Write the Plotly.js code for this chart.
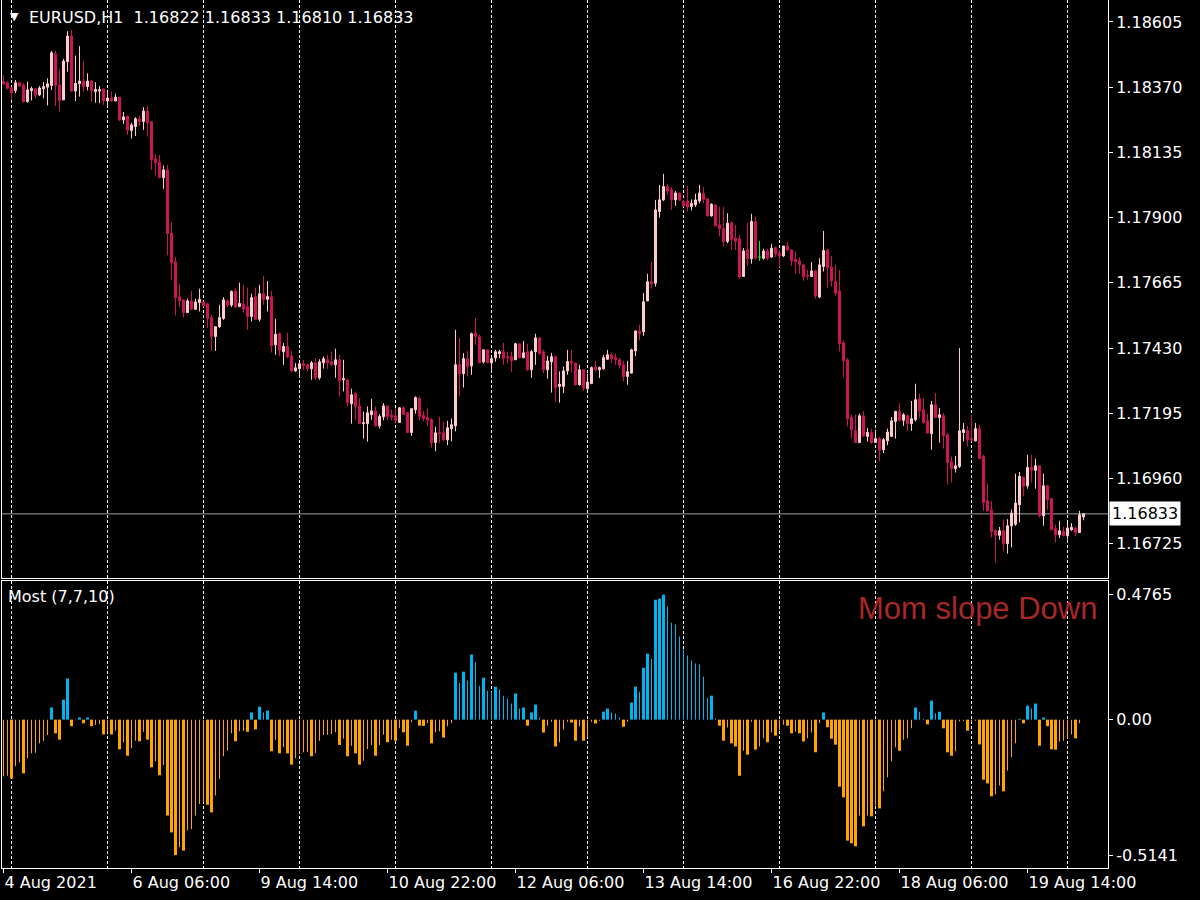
<!DOCTYPE html>
<html><head><meta charset="utf-8">
<script src="https://cdn.plot.ly/plotly-3.0.1.min.js"></script>
<style>html,body{margin:0;padding:0;background:#000;}#chart{width:1200px;height:900px;}</style>
</head><body><div id="chart"></div>
<script>
const symbolName = "EURUSD,H1";
const indicatorName = "Most (7,7,10)";
const signalText = "Mom slope Down";

const openP = [
1.18390,1.18386,1.18368,1.18358,1.18386,1.18378,1.18318,1.18358,1.18364,1.18342,
1.18364,1.18370,1.18376,1.18490,1.18378,1.18324,1.18462,1.18554,1.18356,1.18382,
1.18392,1.18372,1.18392,1.18354,1.18356,1.18364,1.18320,1.18331,1.18320,1.18334,
1.18252,1.18266,1.18214,1.18228,1.18256,1.18246,1.18284,1.18245,1.18112,1.18100,
1.18044,1.18072,1.17844,1.17741,1.17615,1.17604,1.17558,1.17600,1.17570,1.17594,
1.17597,1.17590,1.17540,1.17472,1.17507,1.17537,1.17600,1.17585,1.17634,1.17580,
1.17588,1.17579,1.17544,1.17615,1.17534,1.17626,1.17606,1.17615,1.17442,1.17482,
1.17417,1.17436,1.17402,1.17348,1.17356,1.17374,1.17370,1.17356,1.17377,1.17323,
1.17377,1.17388,1.17381,1.17370,1.17388,1.17316,1.17316,1.17230,1.17266,1.17222,
1.17158,1.17158,1.17190,1.17204,1.17150,1.17183,1.17222,1.17189,1.17186,1.17162,
1.17215,1.17197,1.17126,1.17208,1.17249,1.17188,1.17180,1.17172,1.17090,1.17125,
1.17125,1.17100,1.17140,1.17150,1.17370,1.17338,1.17392,1.17366,1.17485,1.17471,
1.17381,1.17424,1.17377,1.17395,1.17410,1.17417,1.17399,1.17399,1.17388,1.17446,
1.17395,1.17417,1.17352,1.17417,1.17467,1.17417,1.17352,1.17381,1.17399,1.17292,
1.17292,1.17348,1.17382,1.17376,1.17298,1.17352,1.17284,1.17302,1.17362,1.17352,
1.17356,1.17390,1.17406,1.17396,1.17388,1.17370,1.17328,1.17340,1.17420,1.17492,
1.17489,1.17600,1.17669,1.17664,1.17922,1.17964,1.18012,1.18000,1.17964,1.17989,
1.17958,1.17960,1.17940,1.17946,1.17960,1.17986,1.17968,1.17906,1.17946,1.17874,
1.17860,1.17814,1.17882,1.17826,1.17824,1.17688,1.17784,1.17752,1.17886,1.17758,
1.17754,1.17780,1.17758,1.17792,1.17773,1.17762,1.17798,1.17784,1.17750,1.17744,
1.17730,1.17693,1.17688,1.17708,1.17614,1.17724,1.17784,1.17722,1.17669,1.17636,
1.17449,1.17388,1.17180,1.17132,1.17090,1.17186,1.17112,1.17126,1.17090,1.17104,
1.17064,1.17096,1.17112,1.17166,1.17202,1.17170,1.17187,1.17158,1.17172,1.17248,
1.17208,1.17168,1.17122,1.17226,1.17180,1.17187,1.17118,1.17020,1.16996,1.17004,
1.17126,1.17132,1.17104,1.17096,1.17140,1.17039,1.16880,1.16848,1.16772,1.16756,
1.16772,1.16726,1.16790,1.16796,1.16866,1.16964,1.16934,1.17000,1.16990,1.17006,
1.16826,1.16934,1.16888,1.16780,1.16758,1.16770,1.16754,1.16776,1.16782,1.16766,
1.16822];

const highP = [
1.18414,1.18392,1.18372,1.18396,1.18390,1.18384,1.18390,1.18372,1.18368,1.18374,
1.18389,1.18402,1.18500,1.18500,1.18434,1.18472,1.18572,1.18576,1.18484,1.18518,
1.18464,1.18420,1.18396,1.18388,1.18374,1.18364,1.18354,1.18354,1.18346,1.18334,
1.18280,1.18266,1.18242,1.18262,1.18266,1.18298,1.18302,1.18248,1.18128,1.18126,
1.18088,1.18090,1.17885,1.17759,1.17660,1.17604,1.17609,1.17636,1.17608,1.17644,
1.17597,1.17592,1.17550,1.17508,1.17586,1.17614,1.17606,1.17638,1.17646,1.17666,
1.17658,1.17648,1.17626,1.17648,1.17658,1.17690,1.17672,1.17636,1.17536,1.17486,
1.17448,1.17486,1.17420,1.17376,1.17382,1.17388,1.17374,1.17384,1.17394,1.17390,
1.17400,1.17406,1.17417,1.17428,1.17406,1.17388,1.17318,1.17284,1.17274,1.17250,
1.17201,1.17220,1.17248,1.17220,1.17192,1.17232,1.17222,1.17208,1.17214,1.17218,
1.17220,1.17197,1.17212,1.17256,1.17256,1.17204,1.17212,1.17178,1.17147,1.17183,
1.17165,1.17168,1.17176,1.17496,1.17467,1.17412,1.17420,1.17486,1.17539,1.17478,
1.17424,1.17424,1.17400,1.17424,1.17424,1.17449,1.17417,1.17417,1.17449,1.17446,
1.17456,1.17446,1.17424,1.17482,1.17467,1.17424,1.17402,1.17413,1.17402,1.17346,
1.17364,1.17424,1.17424,1.17378,1.17370,1.17354,1.17338,1.17364,1.17384,1.17364,
1.17406,1.17424,1.17414,1.17410,1.17396,1.17384,1.17384,1.17428,1.17492,1.17514,
1.17629,1.17698,1.17741,1.17964,1.18018,1.18058,1.18020,1.18010,1.17996,1.17989,
1.17964,1.18014,1.17966,1.17986,1.18018,1.18010,1.17968,1.17952,1.17946,1.17939,
1.17939,1.17916,1.17886,1.17874,1.17838,1.17790,1.17882,1.17914,1.17903,1.17816,
1.17788,1.17788,1.17806,1.17796,1.17784,1.17798,1.17813,1.17786,1.17777,1.17758,
1.17732,1.17712,1.17740,1.17708,1.17754,1.17852,1.17784,1.17762,1.17730,1.17712,
1.17456,1.17394,1.17190,1.17190,1.17194,1.17204,1.17142,1.17140,1.17136,1.17110,
1.17106,1.17140,1.17182,1.17204,1.17232,1.17196,1.17190,1.17240,1.17302,1.17266,
1.17250,1.17194,1.17240,1.17268,1.17214,1.17196,1.17124,1.17040,1.17042,1.17430,
1.17160,1.17150,1.17190,1.17160,1.17154,1.17046,1.16942,1.16880,1.16778,1.16786,
1.16812,1.16814,1.16848,1.16978,1.16984,1.16968,1.17046,1.17046,1.17032,1.17006,
1.16978,1.16938,1.16888,1.16794,1.16808,1.16786,1.16800,1.16800,1.16788,1.16844,
1.16833];

const lowP = [
1.18378,1.18362,1.18324,1.18348,1.18372,1.18314,1.18314,1.18322,1.18330,1.18338,
1.18330,1.18304,1.18360,1.18302,1.18282,1.18324,1.18426,1.18354,1.18320,1.18336,
1.18354,1.18358,1.18318,1.18314,1.18312,1.18306,1.18300,1.18318,1.18320,1.18248,
1.18238,1.18198,1.18185,1.18194,1.18230,1.18216,1.18192,1.18072,1.18052,1.18042,
1.18004,1.17764,1.17674,1.17548,1.17578,1.17540,1.17558,1.17568,1.17568,1.17562,
1.17578,1.17502,1.17420,1.17420,1.17502,1.17532,1.17578,1.17578,1.17574,1.17578,
1.17558,1.17496,1.17526,1.17532,1.17526,1.17586,1.17562,1.17414,1.17406,1.17402,
1.17370,1.17394,1.17345,1.17345,1.17326,1.17352,1.17348,1.17316,1.17316,1.17316,
1.17356,1.17356,1.17366,1.17323,1.17256,1.17274,1.17220,1.17158,1.17172,1.17158,
1.17104,1.17093,1.17172,1.17148,1.17140,1.17170,1.17170,1.17170,1.17162,1.17162,
1.17191,1.17126,1.17114,1.17194,1.17170,1.17166,1.17150,1.17072,1.17058,1.17087,
1.17094,1.17080,1.17094,1.17130,1.17256,1.17288,1.17328,1.17334,1.17442,1.17377,
1.17374,1.17377,1.17352,1.17381,1.17394,1.17370,1.17374,1.17344,1.17388,1.17395,
1.17395,1.17348,1.17323,1.17370,1.17406,1.17340,1.17320,1.17270,1.17234,1.17234,
1.17268,1.17334,1.17344,1.17294,1.17294,1.17276,1.17280,1.17302,1.17346,1.17322,
1.17352,1.17388,1.17376,1.17370,1.17356,1.17310,1.17298,1.17338,1.17402,1.17458,
1.17474,1.17600,1.17644,1.17652,1.17900,1.17960,1.17982,1.17928,1.17942,1.17960,
1.17940,1.17922,1.17926,1.17938,1.17952,1.17952,1.17906,1.17904,1.17870,1.17832,
1.17796,1.17808,1.17784,1.17784,1.17680,1.17688,1.17726,1.17734,1.17748,1.17744,
1.17748,1.17748,1.17755,1.17758,1.17720,1.17758,1.17778,1.17726,1.17698,1.17698,
1.17672,1.17676,1.17686,1.17608,1.17610,1.17706,1.17648,1.17652,1.17618,1.17418,
1.17324,1.17148,1.17104,1.17088,1.17088,1.17110,1.17094,1.17086,1.17088,1.17022,
1.17052,1.17080,1.17110,1.17104,1.17166,1.17150,1.17132,1.17132,1.17166,1.17178,
1.17158,1.17122,1.17064,1.17178,1.17090,1.17068,1.16938,1.16946,1.16982,1.16998,
1.17094,1.17076,1.17094,1.17094,1.17032,1.16844,1.16842,1.16748,1.16658,1.16740,
1.16700,1.16690,1.16712,1.16790,1.16802,1.16896,1.16924,1.16946,1.16924,1.16820,
1.16790,1.16848,1.16776,1.16730,1.16746,1.16752,1.16740,1.16772,1.16752,1.16764,
1.16810];

const closeP = [
1.18382,1.18366,1.18350,1.18386,1.18374,1.18318,1.18360,1.18365,1.18341,1.18367,
1.18372,1.18382,1.18494,1.18376,1.18322,1.18464,1.18554,1.18356,1.18384,1.18392,
1.18372,1.18392,1.18358,1.18362,1.18361,1.18320,1.18331,1.18320,1.18334,1.18252,
1.18263,1.18216,1.18234,1.18256,1.18246,1.18284,1.18242,1.18108,1.18098,1.18044,
1.18072,1.17843,1.17738,1.17612,1.17600,1.17558,1.17600,1.17570,1.17596,1.17606,
1.17582,1.17537,1.17472,1.17507,1.17540,1.17604,1.17585,1.17634,1.17578,1.17591,
1.17570,1.17544,1.17612,1.17534,1.17626,1.17606,1.17616,1.17438,1.17480,1.17422,
1.17436,1.17398,1.17348,1.17359,1.17374,1.17366,1.17356,1.17377,1.17323,1.17381,
1.17392,1.17377,1.17370,1.17388,1.17312,1.17320,1.17234,1.17262,1.17220,1.17158,
1.17161,1.17197,1.17204,1.17150,1.17184,1.17222,1.17183,1.17182,1.17170,1.17215,
1.17191,1.17126,1.17212,1.17252,1.17184,1.17176,1.17172,1.17090,1.17125,1.17122,
1.17100,1.17143,1.17154,1.17370,1.17338,1.17392,1.17363,1.17482,1.17472,1.17377,
1.17424,1.17377,1.17392,1.17417,1.17417,1.17394,1.17395,1.17384,1.17446,1.17395,
1.17413,1.17352,1.17417,1.17467,1.17410,1.17352,1.17384,1.17399,1.17288,1.17300,
1.17348,1.17382,1.17376,1.17298,1.17352,1.17286,1.17308,1.17360,1.17352,1.17360,
1.17396,1.17406,1.17392,1.17388,1.17368,1.17328,1.17345,1.17424,1.17492,1.17482,
1.17597,1.17669,1.17662,1.17928,1.17964,1.18012,1.17996,1.17964,1.17989,1.17964,
1.17942,1.17938,1.17952,1.17964,1.17989,1.17966,1.17906,1.17948,1.17870,1.17860,
1.17813,1.17880,1.17822,1.17815,1.17686,1.17780,1.17752,1.17886,1.17754,1.17758,
1.17780,1.17754,1.17790,1.17770,1.17762,1.17798,1.17784,1.17744,1.17742,1.17730,
1.17686,1.17690,1.17708,1.17618,1.17730,1.17782,1.17720,1.17672,1.17628,1.17446,
1.17384,1.17176,1.17136,1.17090,1.17186,1.17114,1.17126,1.17090,1.17104,1.17062,
1.17100,1.17128,1.17168,1.17202,1.17170,1.17190,1.17158,1.17176,1.17244,1.17204,
1.17162,1.17124,1.17226,1.17180,1.17190,1.17114,1.17018,1.16996,1.17006,1.17132,
1.17136,1.17100,1.17098,1.17140,1.17032,1.16874,1.16844,1.16770,1.16756,1.16772,
1.16726,1.16790,1.16836,1.16872,1.16968,1.16932,1.17000,1.16990,1.17006,1.16826,
1.16934,1.16884,1.16776,1.16758,1.16772,1.16754,1.16782,1.16784,1.16766,1.16830,
1.16833];

const momentum = [
-0.215,-0.213,-0.223,-0.177,-0.162,-0.204,-0.147,-0.128,-0.126,-0.090,
-0.080,-0.058,0.046,-0.052,-0.076,0.076,0.156,-0.025,-0.002,0.008,
-0.014,0.008,-0.025,-0.020,-0.018,-0.056,-0.048,-0.056,-0.042,-0.113,
-0.086,-0.137,-0.109,-0.080,-0.082,-0.046,-0.076,-0.181,-0.159,-0.211,
-0.172,-0.364,-0.428,-0.514,-0.484,-0.497,-0.421,-0.415,-0.364,-0.320,
-0.314,-0.323,-0.352,-0.288,-0.225,-0.139,-0.118,-0.052,-0.082,-0.044,
-0.043,-0.046,0.027,-0.037,0.049,0.027,0.034,-0.120,-0.076,-0.128,
-0.105,-0.128,-0.171,-0.147,-0.130,-0.124,-0.123,-0.139,-0.127,-0.080,
-0.058,-0.057,-0.055,-0.048,-0.096,-0.073,-0.139,-0.099,-0.128,-0.171,
-0.156,-0.111,-0.096,-0.137,-0.096,-0.057,-0.086,-0.076,-0.080,-0.033,
-0.048,-0.099,-0.010,0.034,-0.023,-0.024,-0.014,-0.090,-0.048,-0.044,
-0.068,-0.025,-0.014,0.178,0.140,0.182,0.148,0.247,0.220,0.129,
0.159,0.110,0.106,0.125,0.114,0.091,0.080,0.061,0.099,0.042,
0.046,-0.023,0.027,0.057,0.008,-0.049,-0.023,-0.008,-0.102,-0.086,
-0.038,-0.008,-0.011,-0.080,-0.025,-0.080,-0.067,-0.008,-0.015,-0.004,
0.030,0.042,0.027,0.023,0.008,-0.027,-0.008,0.065,0.125,0.106,
0.197,0.250,0.231,0.455,0.459,0.474,0.429,0.368,0.361,0.315,
0.266,0.243,0.224,0.213,0.209,0.163,0.083,0.091,0.004,-0.023,
-0.080,-0.030,-0.090,-0.102,-0.213,-0.118,-0.133,-0.008,-0.114,-0.102,
-0.071,-0.086,-0.049,-0.061,-0.040,-0.019,-0.023,-0.052,-0.046,-0.052,
-0.083,-0.071,-0.049,-0.124,-0.014,0.027,-0.029,-0.072,-0.095,-0.254,
-0.295,-0.459,-0.469,-0.481,-0.364,-0.405,-0.364,-0.367,-0.326,-0.337,
-0.272,-0.219,-0.158,-0.105,-0.118,-0.076,-0.071,-0.033,0.046,0.030,
0.003,-0.018,0.072,0.023,0.030,-0.033,-0.124,-0.137,-0.120,-0.006,
-0.005,-0.042,-0.010,-0.004,-0.094,-0.228,-0.242,-0.291,-0.283,-0.250,
-0.272,-0.194,-0.143,-0.090,0.003,-0.014,0.053,0.042,0.061,-0.099,
0.008,-0.025,-0.113,-0.114,-0.083,-0.080,-0.071,-0.056,-0.071,-0.014,
null];

const dateLabels = ["4 Aug 2021","6 Aug 06:00","9 Aug 14:00","10 Aug 22:00","12 Aug 06:00","13 Aug 14:00","16 Aug 22:00","18 Aug 06:00","19 Aug 14:00"];
const dateLabelBars = [0,32,64,96,128,160,192,224,256];
const daySeparatorBars = [2,26,50,74,98,122,146,170,194,218,242,266];
const priceTicks = [1.18605,1.18370,1.18135,1.17900,1.17665,1.17430,1.17195,1.16960,1.16725];
const momTicks = [0.4765,0,-0.5141];
const momTickText = ["0.4765","0.00","-0.5141"];

const FONT = "DejaVu Sans, Verdana, sans-serif";
const BULL = "#FFCCCC", BEAR = "#CC1458", DOJI = "#00FF00";
const idx = closeP.map((_, i) => i);
const last = closeP.length - 1;
const f5 = v => v.toFixed(5);

const normIdx = idx.filter(i => openP[i] !== closeP[i]);
const dojiIdx = idx.filter(i => openP[i] === closeP[i]);
const pick = (arr, ids) => ids.map(i => arr[i]);

const candles = {
  type: "candlestick", xaxis: "x", yaxis: "y",
  x: normIdx, open: pick(openP, normIdx), high: pick(highP, normIdx),
  low: pick(lowP, normIdx), close: pick(closeP, normIdx),
  increasing: {line: {color: BULL, width: 1}, fillcolor: BULL},
  decreasing: {line: {color: BEAR, width: 1}, fillcolor: BEAR},
  whiskerwidth: 0, hoverinfo: "skip"
};
const dojis = {
  type: "candlestick", xaxis: "x", yaxis: "y",
  x: dojiIdx, open: pick(openP, dojiIdx), high: pick(highP, dojiIdx),
  low: pick(lowP, dojiIdx), close: pick(closeP, dojiIdx),
  increasing: {line: {color: DOJI, width: 1}, fillcolor: DOJI},
  decreasing: {line: {color: DOJI, width: 1}, fillcolor: DOJI},
  whiskerwidth: 0, hoverinfo: "skip"
};

const momColor = momentum.map(v => v == null ? "rgba(0,0,0,0)" : (v >= 0 ? "#00B4F0" : "#FFA500"));
const momWidth = momentum.map((v, i) => {
  const p = i > 0 && momentum[i-1] != null ? momentum[i-1] : v;
  return ((v >= 0 && v > p) || (v < 0 && v < p)) ? 0.75 : 0.25;
});
const hist = {
  type: "bar", xaxis: "x2", yaxis: "y2", x: idx, y: momentum,
  width: momWidth, marker: {color: momColor, line: {width: 0}}, hoverinfo: "skip"
};

const xr = [-0.375, 276.125];
const tickFont = {family: FONT, size: 16, color: "#FFFFFF"};

const layout = {
  width: 1200, height: 900,
  paper_bgcolor: "#000000", plot_bgcolor: "#000000",
  margin: {l: 2, r: 92, t: 0, b: 32},
  showlegend: false, hovermode: false, dragmode: false,
  boxgap: 0.5, boxgroupgap: 0,
  font: {family: FONT, color: "#FFFFFF", size: 16},
  xaxis: {
    domain: [0, 1], anchor: "y", range: xr, fixedrange: true,
    rangeslider: {visible: false},
    tickmode: "array", tickvals: daySeparatorBars, showticklabels: false, ticks: "",
    showgrid: true, gridcolor: "#FFFFFF", gridwidth: 1, griddash: "3px,2px",
    zeroline: false, showline: true, linecolor: "#FFFFFF", linewidth: 1
  },
  yaxis: {
    domain: [0.3341, 1], anchor: "x", side: "right", range: [1.16602, 1.18684], fixedrange: true,
    tickmode: "array", tickvals: priceTicks, tickformat: ".5f",
    ticks: "outside", ticklen: 4, tickcolor: "#FFFFFF", tickfont: tickFont,
    showgrid: false, zeroline: false, showline: true, mirror: true, linecolor: "#FFFFFF", linewidth: 1
  },
  xaxis2: {
    domain: [0, 1], anchor: "y2", range: xr, fixedrange: true,
    tickmode: "array", tickvals: dateLabelBars, ticktext: dateLabels,
    ticks: "outside", ticklen: 4, tickcolor: "#FFFFFF", tickfont: tickFont,
    ticklabelposition: "outside right",
    showgrid: false, zeroline: false, showline: true, mirror: true, linecolor: "#FFFFFF", linewidth: 1,
    minor: {tickmode: "array", tickvals: daySeparatorBars, showgrid: true, gridcolor: "#FFFFFF",
            gridwidth: 1, griddash: "3px,2px", ticks: ""}
  },
  yaxis2: {
    domain: [0, 0.33065], anchor: "x2", side: "right", range: [-0.563, 0.526], fixedrange: true,
    tickmode: "array", tickvals: momTicks, ticktext: momTickText,
    ticks: "outside", ticklen: 4, tickcolor: "#FFFFFF", tickfont: tickFont,
    showgrid: false, zeroline: false, showline: true, mirror: true, linecolor: "#FFFFFF", linewidth: 1
  },
  shapes: [{
    type: "line", layer: "below", xref: "paper", x0: 0, x1: 1, yref: "y",
    y0: closeP[last], y1: closeP[last], line: {color: "#A0A0A8", width: 1}
  }],
  annotations: [
    {xref: "paper", yref: "paper", x: 0, y: 1, xanchor: "left", yanchor: "middle",
     xshift: 6, yshift: -16, text: "\u25BC", showarrow: false, font: {family: FONT, size: 11, color: "#FFFFFF"}},
    {xref: "paper", yref: "paper", x: 0, y: 1, xanchor: "left", yanchor: "middle",
     xshift: 25, yshift: -17, showarrow: false, font: {family: FONT, size: 16, color: "#FFFFFF"},
     text: symbolName + "\u00a0\u00a0" + [openP[last], highP[last], lowP[last], closeP[last]].map(f5).join(" ")},
    {xref: "paper", yref: "paper", x: 0, y: 0.33065, xanchor: "left", yanchor: "middle",
     xshift: 4, yshift: -16, showarrow: false, text: indicatorName,
     font: {family: FONT, size: 16, color: "#FFFFFF"}},
    {xref: "paper", yref: "paper", x: 1, y: 0.33065, xanchor: "right", yanchor: "middle",
     xshift: -9, yshift: -28, showarrow: false, text: signalText,
     font: {family: "Liberation Sans, Arial, sans-serif", size: 31, color: "#A82828"}},
    {xref: "paper", yref: "y", x: 1, y: closeP[last], xanchor: "left", yanchor: "middle",
     xshift: 1, showarrow: false, text: f5(closeP[last]), bgcolor: "#FFFFFF", borderpad: 2,
     font: {family: FONT, size: 16, color: "#000000"}}
  ]
};

Plotly.newPlot("chart", [candles, dojis, hist], layout, {staticPlot: true, displayModeBar: false});
</script>
</body></html>
